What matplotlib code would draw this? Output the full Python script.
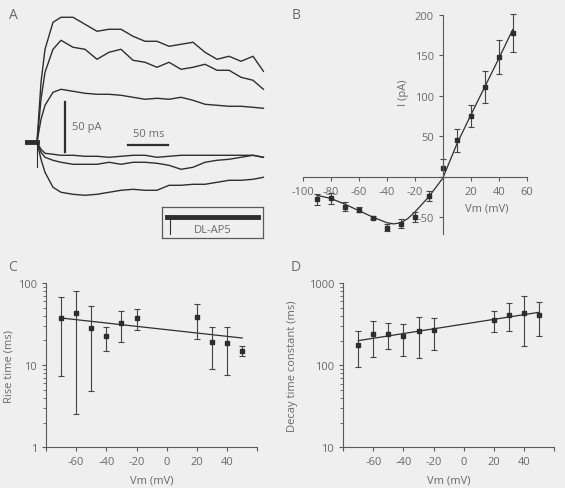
import matplotlib

matplotlib.use("Agg")

import matplotlib.pyplot as plt
from matplotlib.ticker import FixedLocator, FuncFormatter, LogLocator, NullFormatter

# --------------------------------------------------------------------------- #
# Data
# --------------------------------------------------------------------------- #

# Panel A: current traces (ms, pA)
trace_t = [-15, 0, 5, 10, 20, 30, 45, 60, 75, 90, 105, 120, 135, 150, 165,
           180, 195, 210, 225, 240, 255, 270, 283]
trace_1 = [0, 0, 60, 93, 120, 125, 125, 118, 111, 113, 113, 106, 101, 101,
           96, 98, 100, 90, 83, 86, 81, 86, 71]
trace_2 = [0, 0, 43, 70, 93, 102, 95, 93, 83, 90, 93, 82, 80, 75, 80, 73,
           75, 78, 72, 72, 65, 62, 53]
trace_3 = [0, 0, 23, 37, 50, 53, 51, 49, 48, 48, 47, 45, 43, 44, 43, 45,
           42, 38, 37, 36, 36, 35, 34]
trace_4 = [0, 0, -7, -11, -12, -13, -13, -14, -14, -15, -14, -13, -13, -15,
           -14, -13, -13, -13, -13, -13, -13, -13, -15]
trace_5 = [0, 0, -10, -15, -18, -20, -22, -22, -22, -20, -22, -20, -20, -21,
           -23, -27, -25, -20, -18, -17, -15, -13, -15]
trace_6 = [0, 0, -17, -30, -45, -50, -52, -53, -52, -50, -48, -47, -48, -48,
           -43, -43, -42, -42, -40, -38, -38, -37, -35]
traces = [trace_1, trace_2, trace_3, trace_4, trace_5, trace_6]
artifact_i = [10, -25]
dlap5_t = [0, 115]
dlap5_i = [0, 0]
dlap5_artifact_i = [2, -17]

# Panel B: I-V relation
iv_vm = [-90, -80, -70, -60, -50, -40, -30, -20, -10, 0, 10, 20, 30, 40, 50]
iv_i = [-28, -27, -37, -41, -51, -63, -58, -50, -24, 11, 45, 75, 111, 148, 178]
iv_err = [7, 7, 5, 3, 2, 4, 5.5, 6.5, 6.5, 11, 14, 14, 19.5, 21, 23.5]
iv_fit_vm = [-90, -80, -70, -60, -50, -40, -35, -30, -25, -20, -10, 0, 10,
             20, 30, 40, 50]
iv_fit_i = [-23, -27, -34, -42, -50, -57, -58.5, -57, -52, -44, -25, -2, 40,
            76, 111, 146, 182]

# Panels C and D: kinetics vs. holding potential
kin_vm = [-70, -60, -50, -40, -30, -20, 20, 30, 40, 50]
rise = [38, 43.5, 28.6, 22.9, 32.9, 37.5, 38.6, 19.3, 18.8, 15]
rise_hi = [68, 81, 52, 29.4, 45.6, 48.3, 56, 28.9, 29.4, 17.3]
rise_lo = [7.4, 2.55, 4.8, 15, 19, 26.8, 20.8, 8.9, 7.5, 12.8]
rise_fit_vm = [-70, 50]
rise_fit = [37.5, 21.4]

decay = [177, 239, 243, 228, 260, 270, 360, 415, 439, 415]
decay_hi = [260, 347, 328, 319, 388, 374, 456, 570, 701, 586]
decay_lo = [95, 125, 160, 130, 122, 154, 252, 262, 171, 228]
decay_fit_vm = [-70, 50]
decay_fit = [200, 443]

# --------------------------------------------------------------------------- #
# Theme
# --------------------------------------------------------------------------- #

_BG = "#efefef"
_INK = "#2e2e2e"
_AXIS = "#5a5a5a"
_TEXT = "#6a6a6a"
_FS = 8

plt.rcParams["font.family"] = ["Open Sans", "DejaVu Sans"]
plt.rcParams["font.size"] = _FS

fig = plt.figure(figsize=(5.65, 4.89), dpi=100, facecolor=_BG)


def _style_axes(ax):
    ax.set_facecolor("none")
    for side in ("top", "right"):
        ax.spines[side].set_visible(False)
    for side in ("left", "bottom"):
        ax.spines[side].set_color(_AXIS)
        ax.spines[side].set_linewidth(0.8)
    ax.tick_params(colors=_AXIS, labelcolor=_TEXT, labelsize=_FS, width=0.8,
                   length=3, which="major")
    ax.tick_params(colors=_AXIS, width=0.6, length=2, which="minor")


# --------------------------------------------------------------------------- #
# A: traces
# --------------------------------------------------------------------------- #
ax_a = fig.add_axes([0.04425, 0.5808, 0.4248, 0.3988])
ax_a.set_xlim(-15, 285)
ax_a.set_ylim(-61.7, 133.3)
ax_a.axis("off")
for tr in traces:
    ax_a.plot(trace_t, tr, color=_INK, linewidth=1.0)
ax_a.plot(trace_t[:2], [0, 0], color=_INK, linewidth=3.5)
ax_a.plot([0, 0], artifact_i, color=_INK, linewidth=0.8)

# scale bars
ax_a.plot([35, 35], [-9.4, 40.6], color=_INK, linewidth=1.6)
ax_a.text(44, 16, "50 pA", color=_TEXT, fontsize=_FS, va="center", ha="left")
ax_a.plot([113.3, 163.3], [-2.3, -2.3], color=_INK, linewidth=1.6)
ax_a.text(140, 9, "50 ms", color=_TEXT, fontsize=_FS, va="center", ha="center")

# DL-AP5 inset
ax_in = fig.add_axes([0.2862, 0.5106, 0.1798, 0.0634])
ax_in.set_xlim(-6, 121)
ax_in.set_ylim(-21, 10)
ax_in.set_xticks([])
ax_in.set_yticks([])
ax_in.set_facecolor("none")
for sp in ax_in.spines.values():
    sp.set_color(_AXIS)
    sp.set_linewidth(0.9)
ax_in.plot(dlap5_t, dlap5_i, color=_INK, linewidth=3.5)
ax_in.plot([4, 4], dlap5_artifact_i, color=_INK, linewidth=0.8)
ax_in.text(58, -11.7, "DL-AP5", color=_TEXT, fontsize=_FS, ha="center",
           va="center")

# --------------------------------------------------------------------------- #
# B: I-V curve
# --------------------------------------------------------------------------- #
ax_b = fig.add_axes([0.5358, 0.5194, 0.3965, 0.4479])
_style_axes(ax_b)
ax_b.set_xlim(-100, 60)
ax_b.set_ylim(-71, 200)
ax_b.spines["left"].set_position(("data", 0))
ax_b.spines["bottom"].set_position(("data", 0))
ax_b.xaxis.set_major_locator(FixedLocator([-100, -80, -60, -40, -20, 0, 20, 40, 60]))
ax_b.yaxis.set_major_locator(FixedLocator([-50, 0, 50, 100, 150, 200]))
ax_b.xaxis.set_major_formatter(FuncFormatter(lambda v, p: "" if v == 0 else f"{v:g}"))
ax_b.yaxis.set_major_formatter(FuncFormatter(lambda v, p: "" if v == 0 else f"{v:g}"))
ax_b.plot(iv_fit_vm, iv_fit_i, color=_INK, linewidth=0.9)
eb = ax_b.errorbar(iv_vm, iv_i, yerr=iv_err, fmt="s", color=_INK, markersize=3,
                   elinewidth=0.8, capsize=2, capthick=0.8, ecolor="#444444")
for artist in eb.lines[1] + eb.lines[2]:
    artist.set_clip_on(False)
ax_b.set_ylabel("I (pA)", color=_TEXT, fontsize=_FS)
ax_b.yaxis.set_label_coords(0.475, 0.648)
ax_b.set_xlabel("Vm (mV)", color=_TEXT, fontsize=_FS)
ax_b.xaxis.set_label_coords(0.823, 0.146)

# --------------------------------------------------------------------------- #
# C and D: kinetics
# --------------------------------------------------------------------------- #


def _kinetics_panel(rect, vals, lo, hi, fit_vm, fit, ylim, ylabel, label_x):
    ax = fig.add_axes(rect)
    _style_axes(ax)
    ax.set_yscale("log")
    ax.set_xlim(-80, 60)
    ax.set_ylim(*ylim)
    ax.xaxis.set_major_locator(FixedLocator([-80, -60, -40, -20, 0, 20, 40, 60]))
    ax.xaxis.set_major_formatter(
        FuncFormatter(lambda v, p: "" if v in (-80, 60) else f"{v:g}"))
    ax.yaxis.set_major_locator(LogLocator(base=10))
    ax.yaxis.set_minor_locator(LogLocator(base=10, subs=range(2, 10)))
    ax.yaxis.set_major_formatter(FuncFormatter(lambda v, p: f"{v:g}"))
    ax.yaxis.set_minor_formatter(NullFormatter())
    ax.plot(fit_vm, fit, color=_INK, linewidth=0.9)
    yerr = [[v - l for v, l in zip(vals, lo)], [h - v for v, h in zip(vals, hi)]]
    ax.errorbar(kin_vm, vals, yerr=yerr, fmt="s", color=_INK, markersize=3,
                elinewidth=0.8, capsize=2, capthick=0.8, ecolor="#444444")
    ax.set_xlabel("Vm (mV)", color=_TEXT, fontsize=_FS)
    ax.xaxis.set_label_coords(0.5, -0.165)
    ax.set_ylabel(ylabel, color=_TEXT, fontsize=_FS)
    ax.yaxis.set_label_coords(label_x, 0.5)
    return ax


_kinetics_panel([0.0814, 0.0832, 0.374, 0.336], rise, rise_lo, rise_hi,
                rise_fit_vm, rise_fit, (1, 100), "Rise time (ms)", -0.147)
_kinetics_panel([0.6076, 0.0832, 0.3729, 0.3354], decay, decay_lo, decay_hi,
                decay_fit_vm, decay_fit, (10, 1000), "Decay time constant (ms)",
                -0.215)

# panel letters
for letter, x, y in (("A", 0.023, 0.969), ("B", 0.524, 0.969),
                     ("C", 0.023, 0.452), ("D", 0.524, 0.452)):
    fig.text(x, y, letter, color=_TEXT, fontsize=10, ha="center", va="center")

fig.savefig("out.png", dpi=100, facecolor=_BG)
